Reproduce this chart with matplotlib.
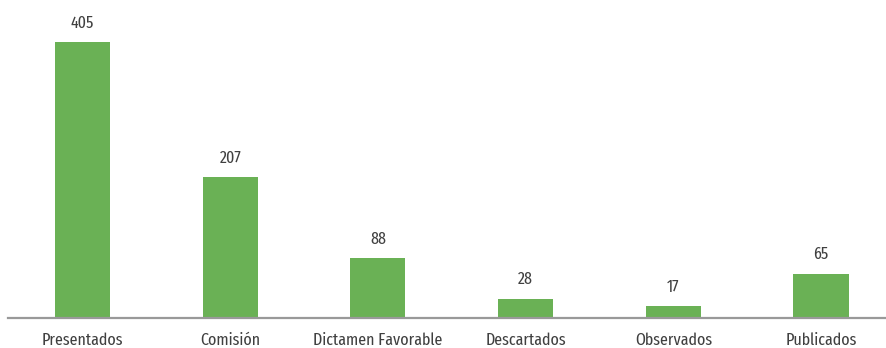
import matplotlib
matplotlib.use("Agg")
import matplotlib.pyplot as plt
from matplotlib import font_manager

categories = ["Presentados", "Comisión", "Dictamen Favorable", "Descartados", "Observados", "Publicados"]
values = [405, 207, 88, 28, 17, 65]

# Pick the first condensed sans family that is installed
available = {f.name for f in font_manager.fontManager.ttflist}
preferred = ["Fira Sans Extra Condensed", "Fira Sans Condensed", "PT Sans Narrow",
             "Roboto Condensed", "Encode Sans Condensed", "Ubuntu"]
family = [f for f in preferred if f in available][:1] + ["DejaVu Sans"]
plt.rcParams["font.family"] = family

fig = plt.figure(figsize=(8.86, 3.48), dpi=100)
ax = fig.add_axes([8 / 886, 30 / 348, 878 / 886, 318 / 348])

x = list(range(len(categories)))
ax.bar(x, values, width=0.373, color="#6AB155", zorder=2)

for xi, v in zip(x, values):
    ax.annotate(str(v), (xi, v), xytext=(0, 8), textcoords="offset points",
                ha="center", va="bottom", fontsize=12.5, fontweight="normal",
                color="#404040")

ax.set_xlim(-0.505, 5.44)
ax.set_ylim(0, 467)
ax.set_xticks(x)
ax.set_xticklabels(categories, fontsize=12.5, fontweight="normal", color="#404040")
ax.tick_params(axis="x", length=0, pad=10)
ax.set_yticks([])
for s in ["top", "left", "right"]:
    ax.spines[s].set_visible(False)
ax.spines["bottom"].set_color("#999999")
ax.spines["bottom"].set_linewidth(1.6)
ax.patch.set_alpha(0)

fig.savefig("out.png", dpi=100)
